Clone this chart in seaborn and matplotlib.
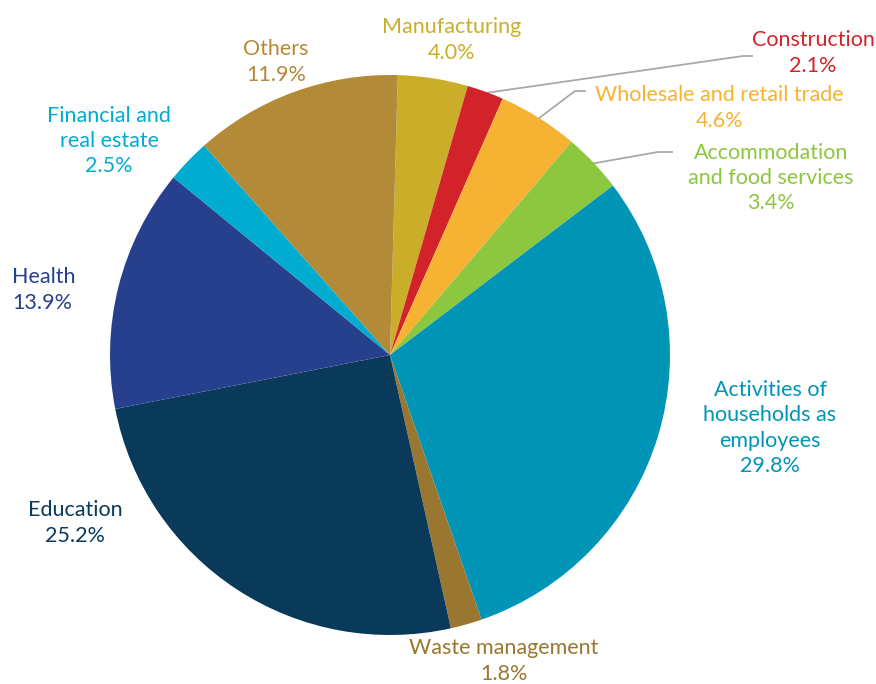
import numpy as np
import matplotlib
matplotlib.use("Agg")
import matplotlib.pyplot as plt
import seaborn as sns

# Share of employment by sector (%), clockwise from the top
sectors = [
    "Manufacturing",
    "Construction",
    "Wholesale and retail trade",
    "Accommodation\nand food services",
    "Activities of\nhouseholds as\nemployees",
    "Waste management",
    "Education",
    "Health",
    "Financial and\nreal estate",
    "Others",
]
shares = [4.0, 2.1, 4.6, 3.4, 29.8, 1.8, 25.2, 13.9, 2.5, 11.9]
colors = [
    "#CAAE2A", "#D2232A", "#F5B233", "#8DC63F", "#0095B6",
    "#9A7730", "#0A3A5A", "#27408E", "#00ACCF", "#B38A37",
]

W, H, DPI = 876, 684, 100
CX, CY, R = 390, 355, 280  # pie centre and radius in pixels


def to_data(px, py):
    return (px - CX) / R, (CY - py) / R


sns.set_theme(style="white")
plt.rcParams["font.family"] = ["Lato", "DejaVu Sans"]

fig = plt.figure(figsize=(W / DPI, H / DPI), dpi=DPI)
ax = fig.add_axes([0, 0, 1, 1])

palette = sns.color_palette(colors)
wedges, _ = ax.pie(
    shares, colors=palette, startangle=88.4, counterclock=False,
    radius=1.0, wedgeprops=dict(linewidth=0),
)
ax.set_xlim(-CX / R, (W - CX) / R)
ax.set_ylim(-(H - CY) / R, CY / R)
ax.set_aspect("equal")
ax.axis("off")

# Label anchors (pixel centre of the text block) and alignment
label_layout = {
    "Manufacturing": (452, 40, "center"),
    "Construction": (813, 53, "center"),
    "Wholesale and retail trade": (719, 108, "center"),
    "Accommodation\nand food services": (771, 178, "center"),
    "Activities of\nhouseholds as\nemployees": (770, 428, "center"),
    "Waste management": (504, 661, "center"),
    "Education": (75, 523, "center"),
    "Health": (12, 290, "left"),
    "Financial and\nreal estate": (109, 141, "center"),
    "Others": (276, 62, "center"),
}

# Leader lines: elbow and end point in pixels, start taken from the wedge
leaders = {
    "Construction": [(743, 56), (753, 56)],
    "Wholesale and retail trade": [(575, 91), (586, 91)],
    "Accommodation\nand food services": [(658, 152), (673, 152)],
}

for name, val, col, w in zip(sectors, shares, colors, wedges):
    px, py, ha = label_layout[name]
    x, y = to_data(px, py)
    ax.text(x, y, f"{name}\n{val:.1f}%", color=col, ha=ha, va="center",
            fontsize=15.5, fontweight="normal", linespacing=1.32,
            multialignment=ha)
    if name in leaders:
        mid = np.deg2rad((w.theta1 + w.theta2) / 2)
        pts = [(0.995 * np.cos(mid), 0.995 * np.sin(mid))]
        pts += [to_data(*p) for p in leaders[name]]
        xs, ys = zip(*pts)
        ax.plot(xs, ys, color="#A7A9AC", linewidth=1.3,
                solid_capstyle="butt", zorder=0.5)

fig.savefig("out.png", dpi=DPI, facecolor="white")
